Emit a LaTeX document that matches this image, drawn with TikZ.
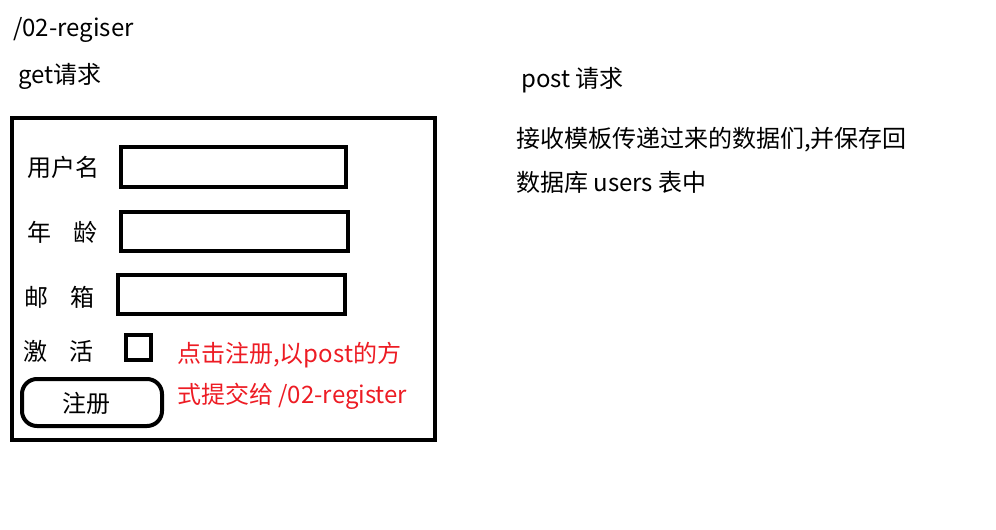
\documentclass[tikz,border=0pt]{standalone}
\usepackage{fontspec}
\setmainfont{Noto Sans CJK SC}
\definecolor{notered}{RGB}{237,28,36}
\tikzset{
  txt/.style={anchor=west,inner sep=0pt,font=\fontsize{24}{28}\selectfont},
  field/.style={draw,line width=4pt},
}
\begin{document}
\begin{tikzpicture}[x=1pt,y=-1pt]
\useasboundingbox (0,0) rectangle (996,530);

% Titles
\node[txt] (route) at (13,30) {/02-regiser};
\node[txt] (getreq) at (18,76) {get请求};
\node[txt] (postreq) at (521,80) {post 请求};
\node[txt] (postline1) at (516,140) {接收模板传递过来的数据们,并保存回};
\node[txt] (postline2) at (516,182) {数据库 users 表中};

% Form
\draw[line width=4.5pt] (12,118) rectangle (435,440);
\node[txt] (lname) at (27,167) {用户名};
\node[txt] (lage) at (27,232) {年\hspace{0.95em}龄};
\node[txt] (lmail) at (24,297) {邮\hspace{0.95em}箱};
\node[txt] (lact) at (23,351) {激\hspace{0.95em}活};
\draw[field] (121,147) rectangle (346,187);
\draw[field] (121,212) rectangle (348,251);
\draw[field] (118,275) rectangle (345,314);
\draw[field] (126,335) rectangle (151,360);

% Submit button
\draw[line width=4pt,rounded corners=15pt] (22,379) rectangle (162,426);
\node[txt,anchor=center] (submit) at (86,403) {注册};

% Note
\node[txt,text=notered] (note1) at (177,355) {点击注册,以post的方};
\node[txt,text=notered] (note2) at (177,396) {式提交给 /02-register};
\end{tikzpicture}
\end{document}
